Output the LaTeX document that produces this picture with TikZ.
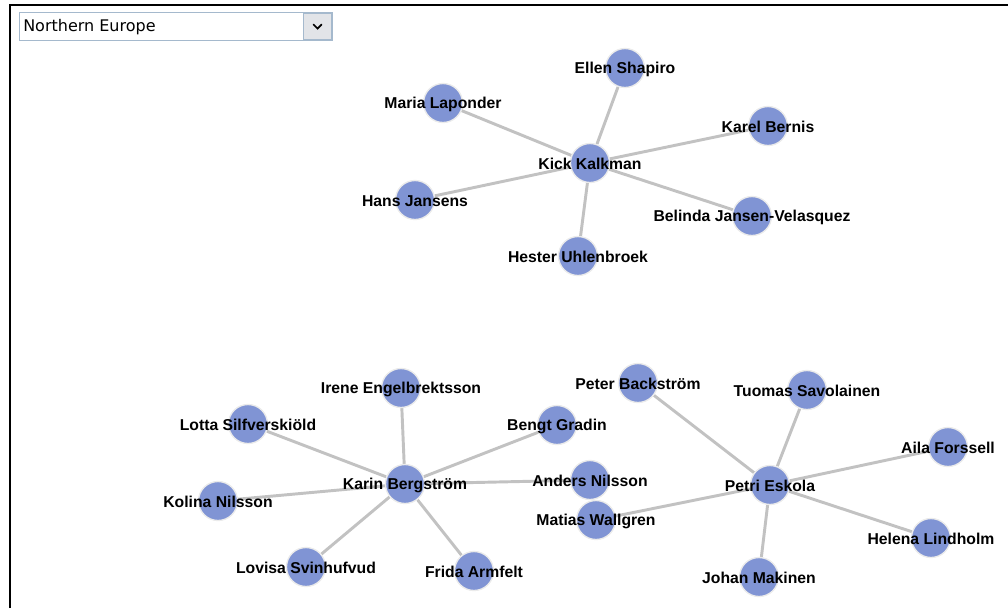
\documentclass[tikz,border=0pt]{standalone}
\usepackage{fontspec}
\setmainfont{Liberation Sans}
\newfontfamily\menufont{DejaVu Sans}
\usetikzlibrary{backgrounds}

\definecolor{nodeblue}{RGB}{128,148,212}
\definecolor{linkgray}{RGB}{194,194,194}
\definecolor{menuedge}{RGB}{165,185,205}
\definecolor{menubtn}{RGB}{226,228,232}

\begin{document}
\begin{tikzpicture}[x=0.75pt, y=-0.75pt,
  person/.style={circle, fill=nodeblue, draw=black!8, line width=1pt,
                 minimum size=29.25pt, inner sep=0pt},
  who/.style={font=\bfseries\fontsize{11.8}{13}\selectfont, text=black, inner sep=0pt, yshift=-1pt},
  link/.style={draw=linkgray, line width=2.2pt},
  menubox/.style={draw=menuedge, fill=white, line width=0.8pt},
]
\useasboundingbox (0,0) rectangle (1008,608);

% frame of the view
\draw[line width=1.2pt] (10,608) -- (10,5) -- (1008,5);

% region selector
\node[menubox, minimum width=234.75pt, minimum height=21pt, anchor=north west] (menu) at (19,12) {};
\node[menubox, fill=menubtn, minimum width=21pt, minimum height=19.5pt, anchor=east] (menubtn) at ([xshift=-0.75pt]menu.east) {};
\node[font=\menufont\fontsize{12}{14}\selectfont, anchor=west, inner sep=0pt] (region) at (23,27) {Northern Europe};
\draw[line width=1.3pt, line cap=round] ([xshift=-3pt,yshift=1.5pt]menubtn.center) -- ([yshift=-1.5pt]menubtn.center) -- ([xshift=3pt,yshift=1.5pt]menubtn.center);

% first group
\node[person, label={[who]center:Kick Kalkman}] (kick) at (590,163) {};
\node[person, label={[who]center:Ellen Shapiro}] (ellen) at (625,68) {};
\node[person, label={[who]center:Maria Laponder}] (maria) at (443,103) {};
\node[person, label={[who]center:Karel Bernis}] (karel) at (768,126) {};
\node[person, label={[who]center:Hans Jansens}] (hans) at (415,200) {};
\node[person, label={[who]center:Belinda Jansen-Velasquez}] (belinda) at (752,216) {};
\node[person, label={[who]center:Hester Uhlenbroek}] (hester) at (578,256) {};

% second group
\node[person, label={[who]center:Karin Bergström}] (karin) at (405,484) {};
\node[person, label={[who]center:Irene Engelbrektsson}] (irene) at (401,388) {};
\node[person, label={[who]center:Lotta Silfverskiöld}] (lotta) at (248,424) {};
\node[person, label={[who]center:Bengt Gradin}] (bengt) at (557,425) {};
\node[person, label={[who]center:Kolina Nilsson}] (kolina) at (218,501) {};
\node[person, label={[who]center:Lovisa Svinhufvud}] (lovisa) at (306,567) {};
\node[person, label={[who]center:Frida Armfelt}] (frida) at (474,571) {};
\node[person, label={[who]center:Anders Nilsson}] (anders) at (590,480) {};

% third group
\node[person, label={[who]center:Petri Eskola}] (petri) at (770,485) {};
\node[person, label={[who]center:Peter Backström}] (peter) at (638,383) {};
\node[person, label={[who]center:Tuomas Savolainen}] (tuomas) at (807,390) {};
\node[person, label={[who]center:Aila Forssell}] (aila) at (948,447) {};
\node[person, label={[who]center:Helena Lindholm}] (helena) at (931,538) {};
\node[person, label={[who]center:Johan Makinen}] (johan) at (759,577) {};
\node[person, label={[who]center:Matias Wallgren}] (matias) at (596,520) {};

\begin{scope}[on background layer]
\draw[link] (kick) -- (ellen);
\draw[link] (kick) -- (maria);
\draw[link] (kick) -- (karel);
\draw[link] (kick) -- (hans);
\draw[link] (kick) -- (belinda);
\draw[link] (kick) -- (hester);

\draw[link] (karin) -- (irene);
\draw[link] (karin) -- (lotta);
\draw[link] (karin) -- (bengt);
\draw[link] (karin) -- (kolina);
\draw[link] (karin) -- (lovisa);
\draw[link] (karin) -- (frida);
\draw[link] (karin) -- (anders);

\draw[link] (petri) -- (peter);
\draw[link] (petri) -- (tuomas);
\draw[link] (petri) -- (aila);
\draw[link] (petri) -- (helena);
\draw[link] (petri) -- (johan);
\draw[link] (petri) -- (matias);
\end{scope}
\end{tikzpicture}
\end{document}
